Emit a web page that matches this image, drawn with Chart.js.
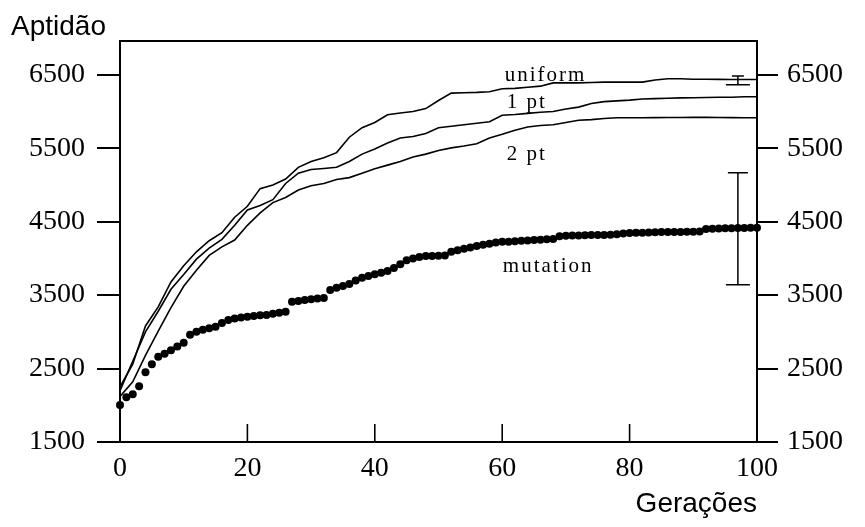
<!DOCTYPE html>
<html>
<head>
<meta charset="utf-8">
<script src="https://cdn.jsdelivr.net/npm/chart.js@4.4.1/dist/chart.umd.min.js"></script>
<style>
  html, body { margin: 0; padding: 0; background: #fff; }
  #c { display: block; }
</style>
</head>
<body>
<canvas id="c" width="865" height="527"></canvas>
<script>
// ---- data ----
const xTicks = [0, 20, 40, 60, 80, 100];
const yTicks = [1500, 2500, 3500, 4500, 5500, 6500];

const genLine = [0, 2, 4, 6, 8, 10, 12, 14, 16, 18, 20, 22, 24, 26, 28, 30, 32, 34, 36, 38,
  40, 42, 44, 46, 48, 50, 52, 54, 56, 58, 60, 62, 64, 66, 68, 70, 72, 74, 76, 78,
  80, 82, 84, 86, 88, 90, 92, 94, 96, 98, 100];

const uniform = [2250, 2560, 3080, 3340, 3680, 3900, 4090, 4240, 4350, 4560,
  4710, 4950, 5000, 5080, 5240, 5320, 5370, 5440, 5650, 5780,
  5850, 5955, 5980, 6000, 6040, 6150, 6250, 6255, 6260, 6270,
  6310, 6315, 6330, 6345, 6390, 6390, 6390, 6395, 6400, 6400,
  6400, 6400, 6430, 6445, 6445, 6440, 6440, 6438, 6435, 6435, 6435];

const onePt = [2200, 2600, 3000, 3280, 3580, 3780, 3990, 4140, 4260, 4450,
  4660, 4720, 4800, 5020, 5160, 5210, 5225, 5240, 5320, 5420,
  5490, 5570, 5640, 5660, 5700, 5780, 5800, 5820, 5840, 5860,
  5950, 5960, 5975, 5990, 6000, 6035, 6060, 6110, 6135, 6145,
  6155, 6170, 6175, 6180, 6185, 6187, 6190, 6195, 6195, 6200, 6200];

const twoPt = [2120, 2320, 2680, 3010, 3330, 3620, 3840, 4040, 4157, 4250,
  4450, 4620, 4760, 4830, 4930, 4990, 5020, 5075, 5100, 5160,
  5220, 5270, 5320, 5380, 5420, 5470, 5505, 5530, 5560, 5640,
  5690, 5745, 5790, 5810, 5820, 5850, 5880, 5890, 5905, 5914,
  5915, 5915, 5916, 5918, 5918, 5920, 5920, 5918, 5916, 5915, 5915];

const genMut = [0, 1, 2, 3, 4, 5, 6, 7, 8, 9, 10, 11, 12, 13, 14, 15, 16, 17, 18, 19,
  20, 21, 22, 23, 24, 25, 26, 27, 28, 29, 30, 31, 32, 33, 34, 35, 36, 37, 38, 39,
  40, 41, 42, 43, 44, 45, 46, 47, 48, 49, 50, 51, 52, 53, 54, 55, 56, 57, 58, 59,
  60, 61, 62, 63, 64, 65, 66, 67, 68, 69, 70, 71, 72, 73, 74, 75, 76, 77, 78, 79,
  80, 81, 82, 83, 84, 85, 86, 87, 88, 89, 90, 91, 92, 93, 94, 95, 96, 97, 98, 99, 100];

const mutation = [2004, 2110, 2150, 2260, 2450, 2560, 2660, 2700, 2750, 2800,
  2850, 2960, 3000, 3030, 3050, 3070, 3120, 3160, 3180, 3195,
  3205, 3215, 3225, 3230, 3245, 3260, 3275, 3410, 3420, 3435,
  3445, 3455, 3462, 3570, 3600, 3625, 3650, 3700, 3735, 3760,
  3785, 3805, 3830, 3870, 3920, 3975, 4000, 4020, 4034, 4034,
  4035, 4040, 4090, 4110, 4130, 4150, 4170, 4185, 4200, 4215,
  4225, 4228, 4235, 4240, 4245, 4250, 4255, 4260, 4265, 4300,
  4307, 4310, 4312, 4315, 4318, 4320, 4320, 4322, 4330, 4340,
  4345, 4348, 4350, 4352, 4355, 4358, 4360, 4360, 4361, 4362,
  4362, 4365, 4400, 4405, 4408, 4410, 4412, 4414, 4415, 4416, 4418];

// error bars (uniform, mutation)
const errGen = [97, 97];
const errLow = [6365, 3640];
const errHigh = [6485, 5165];

const seriesNames = ['uniform', '1 pt', '2 pt', 'mutation'];

// ---- helpers ----
const pts = (xs, ys) => xs.map((x, i) => ({ x: x, y: ys[i] }));
const pinTicks = (vals) => (scale) => { scale.ticks = vals.map(v => ({ value: v })); };
const plain = (v) => String(v);

const decor = {
  id: 'decor',
  afterDatasetsDraw(chart, args, opts) {
    const { ctx, chartArea: a, scales: { x, y } } = chart;
    ctx.save();
    ctx.strokeStyle = '#000';
    ctx.fillStyle = '#000';
    // top frame line
    ctx.lineWidth = 2;
    ctx.beginPath();
    ctx.moveTo(a.left - 1, a.top);
    ctx.lineTo(a.right + 1, a.top);
    ctx.stroke();
    // inner x tick marks
    ctx.lineWidth = 1.6;
    xTicks.forEach(v => {
      const px = x.getPixelForValue(v);
      ctx.beginPath();
      ctx.moveTo(px, a.bottom);
      ctx.lineTo(px, a.bottom - opts.xTickLen);
      ctx.stroke();
    });
    // error bars
    ctx.lineWidth = 1.5;
    errGen.forEach((g, i) => {
      const px = x.getPixelForValue(g);
      const yl = y.getPixelForValue(errLow[i]);
      const yh = y.getPixelForValue(errHigh[i]);
      const [ct, cb] = opts.caps[i];
      ctx.beginPath();
      ctx.moveTo(px, yh); ctx.lineTo(px, yl);
      ctx.moveTo(px - ct, yh); ctx.lineTo(px + ct, yh);
      ctx.moveTo(px - cb, yl); ctx.lineTo(px + cb, yl);
      ctx.stroke();
    });
    // series labels
    ctx.font = '21px "Liberation Serif"';
    ctx.letterSpacing = '2px';
    ctx.textAlign = 'left';
    ctx.textBaseline = 'alphabetic';
    opts.labels.forEach((l, i) => {
      ctx.fillText(seriesNames[i], x.getPixelForValue(l.gen), y.getPixelForValue(l.val));
    });
    ctx.letterSpacing = '0px';
    // axis titles
    ctx.font = '28px "Liberation Sans"';
    ctx.fillText('Aptidão', 11, 35);
    ctx.textAlign = 'right';
    ctx.fillText('Gerações', a.right, 512);
    ctx.restore();
  }
};

const serif = { family: '"Liberation Serif", "Times New Roman", serif', size: 28 };

const lineStyle = {
  borderColor: '#000', borderWidth: 1.6, pointRadius: 0, tension: 0, fill: false
};

new Chart(document.getElementById('c'), {
  type: 'line',
  data: {
    datasets: [
      Object.assign({ label: seriesNames[0], data: pts(genLine, uniform) }, lineStyle),
      Object.assign({ label: seriesNames[1], data: pts(genLine, onePt) }, lineStyle),
      Object.assign({ label: seriesNames[2], data: pts(genLine, twoPt) }, lineStyle),
      {
        label: seriesNames[3], data: pts(genMut, mutation), showLine: false,
        pointRadius: 4, pointBackgroundColor: '#000', pointBorderWidth: 0, clip: false
      }
    ]
  },
  options: {
    responsive: false,
    animation: false,
    devicePixelRatio: 1,
    layout: { padding: { top: 41, left: 0, right: 0, bottom: 0 } },
    plugins: {
      legend: { display: false },
      tooltip: { enabled: false },
      decor: {
        xTickLen: 18,
        caps: [[6, 12], [10, 12]],
        labels: [
          { gen: 60.4, val: 6418 },
          { gen: 60.7, val: 6050 },
          { gen: 60.7, val: 5342 },
          { gen: 60.1, val: 3816 }
        ]
      }
    },
    scales: {
      x: {
        type: 'linear', position: 'bottom', min: 0, max: 100,
        afterBuildTicks: pinTicks(xTicks),
        grid: { display: false, drawTicks: false },
        border: { display: true, color: '#000', width: 2 },
        ticks: { font: serif, color: '#000', padding: 10, maxRotation: 0, autoSkip: false, callback: plain },
        afterFit: (s) => { s.height = 85; }
      },
      y: {
        type: 'linear', position: 'left', min: 1500, max: 6960,
        afterBuildTicks: pinTicks(yTicks),
        grid: { drawOnChartArea: false, drawTicks: true, tickLength: 23, color: '#000', lineWidth: 2 },
        border: { display: true, color: '#000', width: 2 },
        ticks: { font: serif, color: '#000', padding: 12, callback: plain },
        afterFit: (s) => { s.width = 120; }
      },
      y2: {
        type: 'linear', position: 'right', min: 1500, max: 6960,
        afterBuildTicks: pinTicks(yTicks),
        grid: { drawOnChartArea: false, drawTicks: true, tickLength: 21, color: '#000', lineWidth: 2 },
        border: { display: true, color: '#000', width: 2 },
        ticks: { font: serif, color: '#000', padding: 9, callback: plain },
        afterFit: (s) => { s.width = 108; }
      }
    }
  },
  plugins: [decor]
});
</script>
</body>
</html>
